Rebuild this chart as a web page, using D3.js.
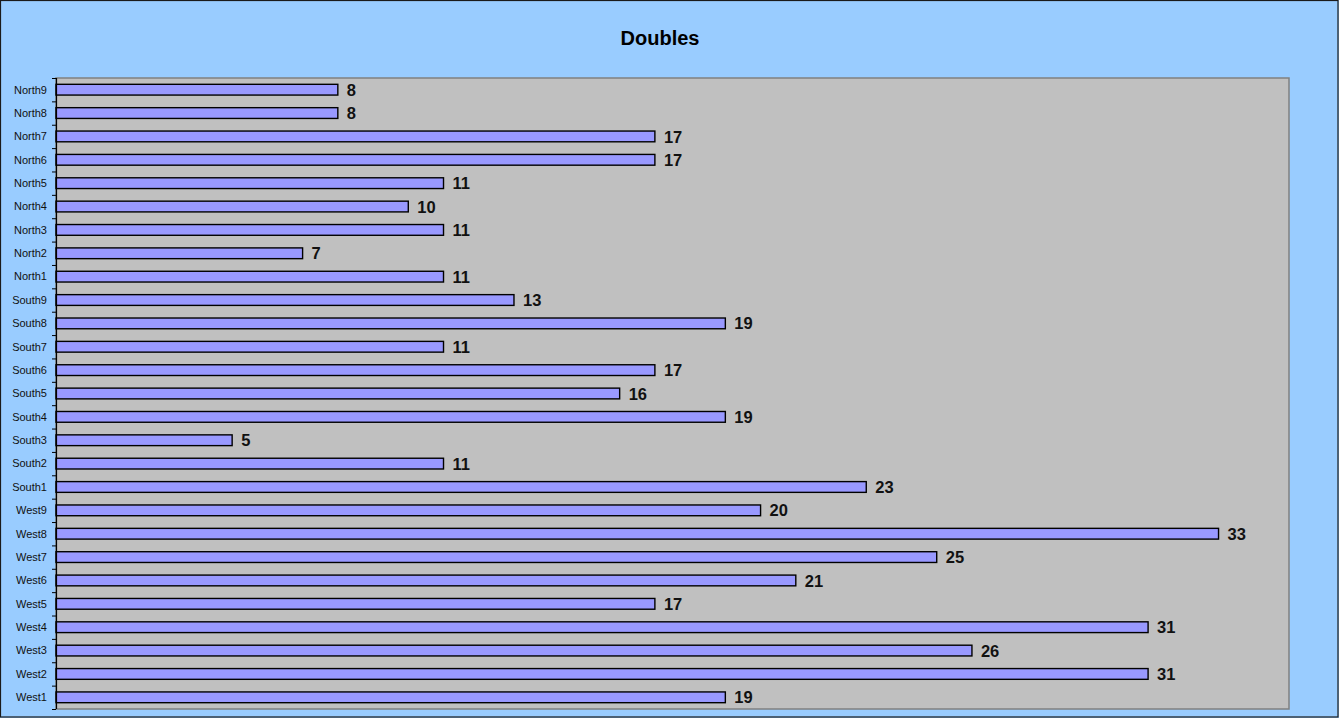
<!DOCTYPE html>
<html><head><meta charset="utf-8">
<script src="https://cdn.jsdelivr.net/npm/d3@7"></script>
<style>html,body{margin:0;padding:0;background:#99CCFF;overflow:hidden}</style>
</head><body>
<svg id="c" width="1339" height="718"></svg>
<script>
const categories = ["North9","North8","North7","North6","North5","North4","North3","North2","North1",
  "South9","South8","South7","South6","South5","South4","South3","South2","South1",
  "West9","West8","West7","West6","West5","West4","West3","West2","West1"];
const values = [8,8,17,17,11,10,11,7,11,13,19,11,17,16,19,5,11,23,20,33,25,21,17,31,26,31,19];
const title = "Doubles";

const W=1339,H=718;
const svg=d3.select("#c");
svg.append("rect").attr("x",0.5).attr("y",0.5).attr("width",W-1.5).attr("height",H-1.5)
  .attr("fill","#99CCFF").attr("stroke","#1a1a1a").attr("stroke-width",1.2);
const m={l:56,t:78,r:1289,b:709};
const x=d3.scaleLinear().domain([0,35]).range([m.l,m.r]);
const y=d3.scaleBand().domain(categories).range([m.t,m.b]).paddingInner(0.54).paddingOuter(0.27);
const yb=d3.scaleBand().domain(categories).range([m.t,m.b]);

svg.append("rect").attr("x",m.l).attr("y",m.t).attr("width",m.r-m.l).attr("height",m.b-m.t)
  .attr("fill","#C0C0C0").attr("stroke","#808080").attr("stroke-width",1.5);

svg.append("text").attr("x",660).attr("y",45).attr("text-anchor","middle")
  .attr("font-family","Liberation Sans, Arial, sans-serif").attr("font-weight","bold")
  .attr("font-size",20).text(title);

const data=categories.map((c,i)=>({c,v:values[i]}));
svg.selectAll("rect.bar").data(data).enter().append("rect").attr("class","bar")
  .attr("x",x(0)).attr("y",d=>y(d.c)).attr("width",d=>x(d.v)-x(0)).attr("height",y.bandwidth())
  .attr("fill","#9999FF").attr("stroke","#000").attr("stroke-width",1.4);

svg.selectAll("text.lbl").data(data).enter().append("text").attr("class","lbl")
  .attr("x",d=>x(d.v)+9).attr("y",d=>y(d.c)+y.bandwidth()/2).attr("dy","0.37em")
  .attr("font-family","Liberation Sans, Arial, sans-serif").attr("font-weight","bold")
  .attr("font-size",16.5).attr("fill","#111").text(d=>d.v);

// axis
const ax=svg.append("g");
ax.append("line").attr("x1",m.l+0.5).attr("x2",m.l+0.5).attr("y1",m.t).attr("y2",m.b)
  .attr("stroke","#000").attr("stroke-width",1.2);
const bounds=categories.map(c=>yb(c)).concat([m.b]);
ax.selectAll("line.t").data(bounds).enter().append("line").attr("class","t")
  .attr("x1",m.l-4).attr("x2",m.l).attr("y1",d=>d+0.5).attr("y2",d=>d+0.5)
  .attr("stroke","#000").attr("stroke-width",1);
ax.selectAll("text.cat").data(categories).enter().append("text").attr("class","cat")
  .attr("x",m.l-9).attr("y",d=>yb(d)+yb.bandwidth()/2).attr("dy","0.35em")
  .attr("text-anchor","end").attr("font-family","Liberation Sans, Arial, sans-serif")
  .attr("font-size",11).attr("fill","#111").text(d=>d);
</script>
</body></html>
